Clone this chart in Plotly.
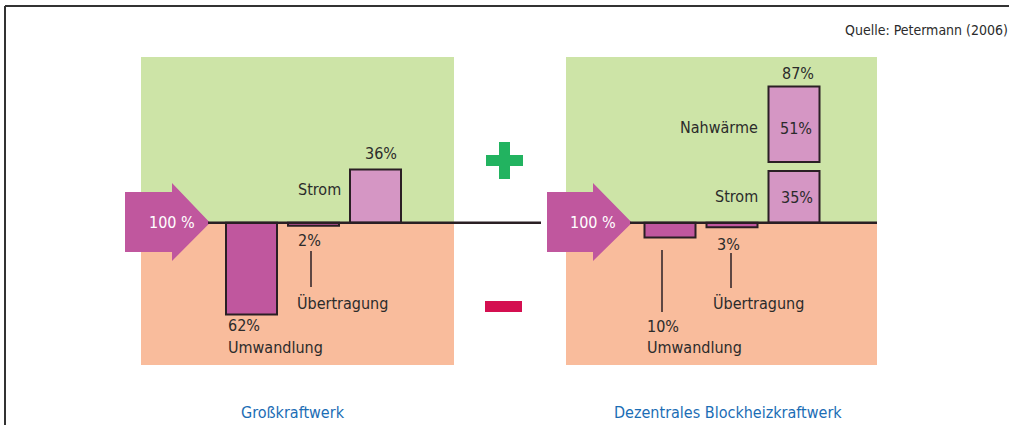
import plotly.graph_objects as go

# Energy flows in percent of the fuel input (100 %)
categories = ["Umwandlung", "Übertragung", "Nutzen"]
gross_values = [-62, -2, 36]          # Großkraftwerk: losses negative, Strom positive
bhkw_values = [-10, -3, 35]           # Blockheizkraftwerk
bhkw_heat = [51]                      # Nahwärme, stacked on Strom
bhkw_total = 87
input_value = 100
panel_titles = ["Großkraftwerk", "Dezentrales Blockheizkraftwerk"]
source = "Quelle: Petermann (2006)"

W, H = 1011, 425
FONT = "DejaVu Sans Condensed, Liberation Sans Narrow, sans-serif"
TXT = "#2b2b2b"
GREEN_BG = "#cde4a7"
ORANGE_BG = "#f9bc9c"
DARK = "#c0579e"
LIGHT = "#d596c4"
EDGE = "#2a1f24"
GAP = 6  # gap between stacked Strom and Nahwärme boxes (in % units)


def px(x):
    return x / W


def py(y):
    return 1 - y / H


# y scale: zero line at pixel 222.7, 1.48 px per percent
ZERO = 222.7
S = 1.48
TOP, BOT = 57, 365
y_range = [-(BOT - ZERO) / S, (ZERO - TOP) / S]

fig = go.Figure()

bar_w = 51 / 62
fig.add_trace(go.Bar(
    x=categories, y=gross_values, xaxis="x", yaxis="y", width=bar_w,
    marker=dict(color=[DARK, DARK, LIGHT], line=dict(color=EDGE, width=2)),
    hoverinfo="skip", showlegend=False))
fig.add_trace(go.Bar(
    x=categories, y=bhkw_values, xaxis="x2", yaxis="y", width=bar_w,
    marker=dict(color=[DARK, DARK, LIGHT], line=dict(color=EDGE, width=2)),
    hoverinfo="skip", showlegend=False))
fig.add_trace(go.Bar(
    x=[categories[2]], y=bhkw_heat, base=[bhkw_values[2] + GAP], xaxis="x2", yaxis="y",
    width=bar_w, marker=dict(color=LIGHT, line=dict(color=EDGE, width=2)),
    hoverinfo="skip", showlegend=False))

shapes = []
# panel backgrounds
for xr in ["x domain", "x2 domain"]:
    shapes.append(dict(type="rect", xref=xr, yref="y", x0=0, x1=1, y0=0, y1=y_range[1],
                       fillcolor=GREEN_BG, line_width=0, layer="below"))
    shapes.append(dict(type="rect", xref=xr, yref="y", x0=0, x1=1, y0=y_range[0], y1=0,
                       fillcolor=ORANGE_BG, line_width=0, layer="below"))

# input arrows
for x0, xh, xt in [(125, 172, 210), (547, 593, 632)]:
    path = (f"M{px(x0)},{py(192)} L{px(xh)},{py(192)} L{px(xh)},{py(183)} "
            f"L{px(xt)},{py(222.7)} L{px(xh)},{py(261)} L{px(xh)},{py(252)} "
            f"L{px(x0)},{py(252)} Z")
    shapes.append(dict(type="path", xref="paper", yref="paper", path=path,
                       fillcolor=DARK, line_width=0))

# zero lines
shapes.append(dict(type="line", xref="paper", yref="y", x0=px(208), x1=px(541), y0=0, y1=0,
                   line=dict(color=EDGE, width=2.5)))
shapes.append(dict(type="line", xref="paper", yref="y", x0=px(630), x1=px(877), y0=0, y1=0,
                   line=dict(color=EDGE, width=2.5)))

# leader lines
for x, y0, y1 in [(311, 251, 287), (731, 253, 288), (662, 250, 312)]:
    shapes.append(dict(type="line", xref="paper", yref="paper", x0=px(x), x1=px(x),
                       y0=py(y0), y1=py(y1), line=dict(color=EDGE, width=1.5)))

# plus and minus signs
shapes.append(dict(type="rect", xref="paper", yref="paper", x0=px(499), x1=px(510),
                   y0=py(179), y1=py(142), fillcolor="#22b360", line_width=0))
shapes.append(dict(type="rect", xref="paper", yref="paper", x0=px(486), x1=px(523),
                   y0=py(166), y1=py(155), fillcolor="#22b360", line_width=0))
shapes.append(dict(type="rect", xref="paper", yref="paper", x0=px(485), x1=px(522),
                   y0=py(312), y1=py(301), fillcolor="#d40f50", line_width=0))

# frame
shapes.append(dict(type="line", xref="paper", yref="paper", x0=px(5), x1=px(1009),
                   y0=py(6), y1=py(6), line=dict(color="#333333", width=2)))
shapes.append(dict(type="line", xref="paper", yref="paper", x0=px(5), x1=px(5),
                   y0=py(6), y1=0, line=dict(color="#333333", width=2)))

annotations = []


def label(text, x, y, xanchor="center", color=TXT, size=16):
    annotations.append(dict(text=text, x=px(x), y=py(y), xref="paper", yref="paper",
                            xanchor=xanchor, yanchor="middle", showarrow=False,
                            font=dict(family=FONT, size=size, color=color)))


def pct(v):
    return f"{abs(v)}%"


# Großkraftwerk
label(f"{input_value} %", 172, 222, color="white")
label(pct(gross_values[2]), 381, 154)
label("Strom", 343, 190, xanchor="right")
label(pct(gross_values[1]), 309, 240)
label("Übertragung", 342, 303)
label(pct(gross_values[0]), 226, 325, xanchor="left")
label("Umwandlung", 226, 347, xanchor="left")

# Blockheizkraftwerk
label(f"{input_value} %", 593, 223, color="white")
label(pct(bhkw_total), 798, 74)
label("Nahwärme", 760, 127, xanchor="right")
label(pct(bhkw_heat[0]), 796, 129)
label("Strom", 760, 196, xanchor="right")
label(pct(bhkw_values[2]), 797, 197)
label(pct(bhkw_values[1]), 728, 245)
label("Übertragung", 758, 303)
label(pct(bhkw_values[0]), 645, 326, xanchor="left")
label("Umwandlung", 645, 347, xanchor="left")

# titles and source
label(panel_titles[0], 293, 412, color="#1b6db5", size=16)
label(panel_titles[1], 728, 412, color="#1b6db5", size=16)
annotations.append(dict(text=source, x=px(1010), y=py(30), xref="paper", yref="paper",
                        xanchor="right", yanchor="middle", showarrow=False,
                        font=dict(family=FONT, size=14, color=TXT)))

fig.update_layout(
    width=W, height=H,
    margin=dict(l=0, r=0, t=0, b=0),
    paper_bgcolor="white", plot_bgcolor="rgba(0,0,0,0)",
    barmode="overlay",
    xaxis=dict(domain=[px(141), px(454)], type="category", categoryarray=categories,
               range=[-(251.5 - 141) / 62, (454 - 251.5) / 62], visible=False, fixedrange=True),
    xaxis2=dict(domain=[px(566), px(877)], type="category", categoryarray=categories,
                range=[-(670 - 566) / 62, (877 - 670) / 62], visible=False, fixedrange=True,
                anchor="y"),
    yaxis=dict(domain=[py(BOT), py(TOP)], range=y_range, visible=False, fixedrange=True),
    shapes=shapes,
    annotations=annotations,
)

# remove the default page margin so the figure fills the window exactly
fig.write_html("out.html", post_script="document.body.style.margin='0';",
               config={"displayModeBar": False})
